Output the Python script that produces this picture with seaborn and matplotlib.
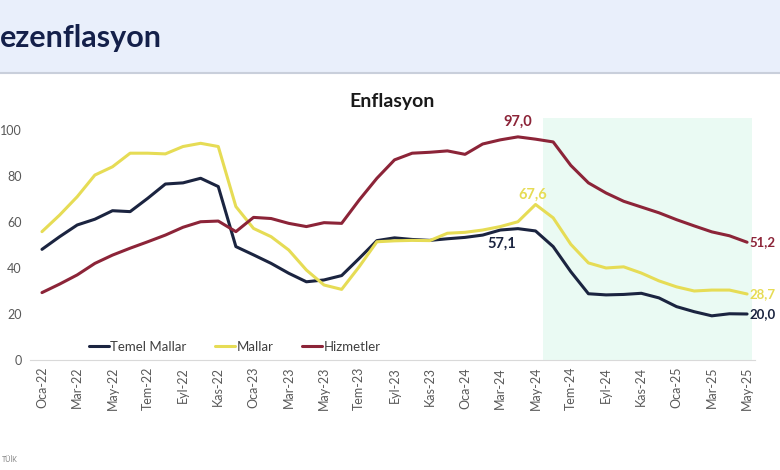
import numpy as np
import pandas as pd
import matplotlib
matplotlib.use('Agg')
import matplotlib.pyplot as plt
import seaborn as sns

# Aylar (Oca-22 ... May-25)
aylar = ['Oca', 'Şub', 'Mar', 'Nis', 'May', 'Haz', 'Tem', 'Ağu', 'Eyl', 'Eki', 'Kas', 'Ara']
donemler = [f'{a}-{y}' for y in ['22', '23', '24', '25'] for a in aylar][:41]

temel_mallar = [48.1, 53.6, 58.7, 61.2, 64.9, 64.5, 70.3, 76.5, 77.0, 79.0, 75.4, 49.3,
                45.7, 42.0, 37.7, 34.0, 34.8, 36.7, 44.2, 51.9, 53.1, 52.4, 52.0, 52.7,
                53.3, 54.3, 56.5, 57.1, 56.1, 49.3, 38.4, 28.8, 28.3, 28.5, 29.0, 27.0,
                23.2, 21.0, 19.2, 20.1, 20.0]
mallar = [55.8, 63.0, 71.0, 80.4, 84.0, 89.9, 89.9, 89.6, 92.8, 94.2, 92.8, 66.7,
          57.2, 53.6, 47.8, 39.1, 32.6, 30.7, 40.6, 51.4, 51.8, 52.0, 51.9, 55.1,
          55.5, 56.5, 58.0, 60.1, 67.6, 61.8, 50.3, 42.2, 40.0, 40.5, 37.8, 34.4,
          31.8, 30.0, 30.4, 30.4, 28.7]
hizmetler = [29.3, 33.0, 37.0, 42.0, 45.6, 48.6, 51.4, 54.3, 57.7, 60.1, 60.4, 55.8,
             62.0, 61.5, 59.4, 58.0, 59.7, 59.4, 69.6, 79.0, 87.0, 89.9, 90.3, 90.9,
             89.4, 93.9, 95.7, 97.0, 96.0, 94.8, 84.6, 77.0, 72.6, 69.0, 66.5, 64.0,
             61.0, 58.3, 55.7, 54.0, 51.2]

seri_adlari = ['Temel Mallar', 'Mallar', 'Hizmetler']
renkler = ['#1b2440', '#e6dc55', '#8c2438']

df = pd.DataFrame({'idx': np.arange(len(donemler)),
                   'Temel Mallar': temel_mallar,
                   'Mallar': mallar,
                   'Hizmetler': hizmetler})
uzun = df.melt(id_vars='idx', var_name='seri', value_name='deger')

sns.set_style('white')
plt.rcParams['font.family'] = ['Lato', 'DejaVu Sans']

fig = plt.figure(figsize=(7.8, 4.7), dpi=100)

# ust baslik bandi
fig.patches.append(plt.Rectangle((0, 1 - 72 / 470), 1, 72 / 470, transform=fig.transFigure,
                                 color='#e9effb', zorder=0))
fig.lines.append(plt.Line2D([0, 1], [1 - 73 / 470, 1 - 73 / 470], transform=fig.transFigure,
                            color='#c9cfdb', lw=1.5))
fig.text(0.0, 1 - 38 / 470, 'ezenflasyon', fontsize=22, fontweight='bold',
         color='#14204a', va='center', ha='left')

ax = fig.add_axes([30 / 780, 1 - 360 / 470, 725 / 780, 242 / 470])
ax.axvspan(28.4, 40.3, color='#eafaf3', lw=0, zorder=0)

sns.lineplot(data=uzun, x='idx', y='deger', hue='seri', hue_order=seri_adlari,
             palette=renkler, lw=2.2, ax=ax, legend=True)

ax.set_xlim(-0.68, 40.45)
ax.set_ylim(0, 105.2)
ax.set_yticks(range(0, 101, 20))
ax.set_xticks(range(0, 41, 2))
ax.set_xticklabels(donemler[::2], rotation=90)
ax.tick_params(axis='x', labelsize=9, colors='#595959', length=0, pad=5)
ax.tick_params(axis='y', labelsize=9, colors='#595959', length=0, pad=6)
ax.set_xlabel('')
ax.set_ylabel('')
for s in ['top', 'right', 'left']:
    ax.spines[s].set_visible(False)
ax.spines['bottom'].set_color('#d9d9d9')

ax.set_title('Enflasyon', fontsize=14, fontweight='bold', color='#1a1a1a', pad=8)

leg = ax.legend(loc='lower left', bbox_to_anchor=(0.065, -0.02), ncol=3, frameon=False,
                fontsize=9.5, handlelength=1.5, handletextpad=0.1, columnspacing=2.2)
for t in leg.get_texts():
    t.set_color('#404040')

# veri etiketleri
etiket = dict(fontsize=10.5, fontweight='bold')
ax.annotate('97,0', (27, hizmetler[27]), xytext=(0, 6), textcoords='offset points',
            ha='center', va='bottom', color=renkler[2], **etiket)
ax.annotate('67,6', (28, mallar[28]), xytext=(-2, 2), textcoords='offset points',
            ha='center', va='bottom', color=renkler[1], **etiket)
ax.annotate('57,1', (27, temel_mallar[27]), xytext=(-12, -6), textcoords='offset points',
            ha='center', va='top', color=renkler[0], **etiket)
for seri, r in zip([hizmetler, mallar, temel_mallar], [renkler[2], renkler[1], renkler[0]]):
    ax.annotate(f'{seri[-1]:.1f}'.replace('.', ','), (40, seri[-1]), xytext=(2, 0),
                textcoords='offset points', ha='left', va='center', color=r,
                annotation_clip=False, fontsize=9.5, fontweight='bold')

fig.text(0.003, 1 - 460 / 470, 'TÜİK', fontsize=5, color='#808080', va='center')

fig.savefig('out.png', dpi=100)
